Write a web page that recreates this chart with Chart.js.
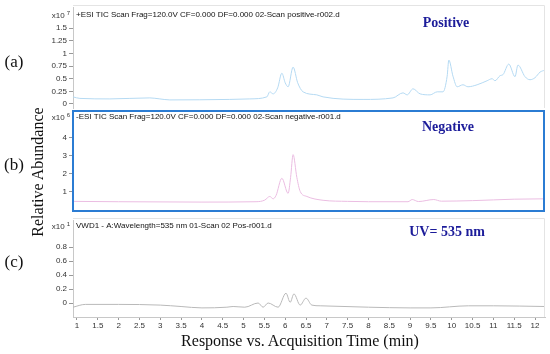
<!DOCTYPE html>
<html>
<head>
<meta charset="utf-8">
<script src="https://cdn.jsdelivr.net/npm/chart.js@4.4.0/dist/chart.umd.min.js"></script>
<style>
html, body { margin: 0; padding: 0; background: #fff; }
#wrap { position: relative; width: 550px; height: 354px; overflow: hidden; }
canvas { position: absolute; left: 0; }
.serif { position: absolute; font-family: 'Liberation Serif', 'Times New Roman', serif; color: #111; white-space: nowrap; transform: translate(-50%, -50%); }
</style>
</head>
<body>
<div id="wrap">
  <canvas id="chartA" width="550" height="110" style="top:0px"></canvas>
  <canvas id="chartB" width="550" height="104" style="top:110px"></canvas>
  <canvas id="chartC" width="550" height="140" style="top:214px"></canvas>
  <div class="serif" style="left:14px;top:62px;font-size:17px">(a)</div>
  <div class="serif" style="left:14px;top:165px;font-size:17px">(b)</div>
  <div class="serif" style="left:14px;top:262px;font-size:17px">(c)</div>
  <div class="serif" style="left:38px;top:172px;font-size:16px;transform:translate(-50%,-50%) rotate(-90deg)">Relative Abundance</div>
  <div class="serif" style="left:300px;top:341px;font-size:16px">Response vs. Acquisition Time (min)</div>
</div>
<script>
// --- data ---
const xMin = 0.904, xMax = 12.24;
const xTicks = [1, 1.5, 2, 2.5, 3, 3.5, 4, 4.5, 5, 5.5, 6, 6.5, 7, 7.5, 8, 8.5, 9, 9.5, 10, 10.5, 11, 11.5, 12];

// (a) +ESI TIC, x10^7
const timeA = [0.904, 1.07, 1.79, 2.75, 2.99, 3.23, 4.67, 5.15, 5.56, 5.63, 5.71, 5.82, 5.92, 6.0, 6.07, 6.19, 6.3, 6.43, 6.76, 6.91, 7.87, 8.59, 8.83, 8.93, 9.07, 9.24, 9.48, 9.65, 9.79, 9.89, 9.93, 10.03, 10.13, 10.27, 10.39, 10.61, 10.85, 10.97, 11.04, 11.16, 11.23, 11.37, 11.52, 11.59, 11.76, 11.88, 12.0, 12.12, 12.24];
const posA  = [0.14, 0.11, 0.10, 0.12, 0.10, 0.08, 0.09, 0.10, 0.14, 0.24, 0.20, 0.32, 0.61, 0.42, 0.34, 0.73, 0.42, 0.24, 0.18, 0.14, 0.09, 0.12, 0.22, 0.18, 0.30, 0.20, 0.18, 0.24, 0.24, 0.55, 0.87, 0.55, 0.34, 0.38, 0.34, 0.38, 0.46, 0.50, 0.46, 0.56, 0.58, 0.79, 0.54, 0.77, 0.54, 0.48, 0.52, 0.63, 0.67];
const ticksA = [0, 0.25, 0.5, 0.75, 1, 1.25, 1.5];

// (b) -ESI TIC, x10^6
const timeB = [0.904, 2.0, 4.0, 5.3, 5.51, 5.63, 5.71, 5.78, 5.92, 6.07, 6.13, 6.19, 6.28, 6.36, 6.52, 6.91, 7.5, 8.0, 8.95, 9.05, 9.2, 9.57, 9.75, 10.5, 11.5, 12.24];
const negB  = [0.48, 0.46, 0.44, 0.46, 0.55, 0.75, 0.62, 0.8, 1.75, 0.92, 1.8, 3.05, 1.8, 1.03, 0.75, 0.54, 0.48, 0.46, 0.46, 0.58, 0.47, 0.58, 0.49, 0.52, 0.6, 0.62];
const ticksB = [1, 2, 3, 4];

// (c) VWD1 535 nm, x10^1
const timeC = [0.904, 1.2, 2.0, 3.0, 3.5, 4.0, 4.6, 4.75, 5.03, 5.35, 5.47, 5.59, 5.83, 6.02, 6.12, 6.21, 6.36, 6.5, 6.64, 6.84, 8.0, 9.0, 9.5, 10.4, 11.0, 12.24];
const uvC   = [-0.06, -0.02, -0.02, -0.03, -0.05, -0.07, -0.06, -0.05, -0.06, 0.0, -0.06, 0.0, -0.06, 0.14, 0.01, 0.13, -0.03, 0.07, -0.03, -0.04, -0.06, -0.07, -0.07, -0.04, -0.04, -0.05];
const ticksC = [0, 0.2, 0.4, 0.6, 0.8];

// --- helpers ---
const tickFont = { family: "'Liberation Sans', Arial, sans-serif", size: 8 };
const toPoints = (xs, ys) => xs.map((x, i) => ({ x, y: ys[i] }));

function yScale(min, max, ticks, showBorder) {
    return {
        min, max,
        afterFit: s => { s.width = 73; s.paddingTop = 0; s.paddingBottom = 0; },
        afterBuildTicks: s => { s.ticks = ticks.map(v => ({ value: v })); },
        ticks: { font: tickFont, color: '#333', padding: 2, callback: v => String(v) },
        grid: { drawOnChartArea: false, tickLength: 4, color: '#999' },
        border: { display: showBorder, color: '#c8c8c8' }
    };
}

// draws the header line, the x10 exponent, the big blue label and the frame
function decor(o) {
    return {
        id: 'decor',
        afterDraw(chart) {
            const { ctx, chartArea: a } = chart;
            ctx.save();
            if (o.frame === 'blue') {
                ctx.strokeStyle = '#2b7cd3';
                ctx.lineWidth = 2;
                ctx.strokeRect(a.left, a.top, a.right - a.left - 1, a.bottom - a.top);
            } else {
                ctx.strokeStyle = '#e4e4e4';
                ctx.lineWidth = 1;
                ctx.beginPath();
                ctx.moveTo(a.left, a.top - 1.5);
                ctx.lineTo(a.right - 0.5, a.top - 1.5);
                ctx.lineTo(a.right - 0.5, a.bottom);
                ctx.stroke();
            }
            ctx.fillStyle = '#111';
            ctx.textBaseline = 'middle';
            ctx.textAlign = 'left';
            ctx.font = "8px 'Liberation Sans', Arial, sans-serif";
            ctx.fillText(o.header, a.left + 3, o.headerY);
            // exponent label
            ctx.fillStyle = '#333';
            ctx.textAlign = 'right';
            ctx.font = "6px 'Liberation Sans', Arial, sans-serif";
            ctx.fillText(o.exp, 70, o.headerY - 2);
            const w = ctx.measureText(o.exp).width;
            ctx.font = "8px 'Liberation Sans', Arial, sans-serif";
            ctx.fillText('x10', 68 - w, o.headerY + 1);
            // big blue label
            ctx.fillStyle = '#1c1c9a';
            ctx.textAlign = 'center';
            ctx.font = "bold 14px 'Liberation Serif', 'Times New Roman', serif";
            ctx.fillText(o.label, o.labelX, o.labelY);
            ctx.restore();
        }
    };
}

function lineDataset(xs, ys, color) {
    return {
        data: toPoints(xs, ys),
        borderColor: color,
        borderWidth: 1,
        pointRadius: 0,
        cubicInterpolationMode: 'monotone',
        fill: false
    };
}

const baseOpts = {
    responsive: false,
    animation: false,
    plugins: { legend: { display: false }, tooltip: { enabled: false } }
};

// --- (a) positive ---
new Chart(document.getElementById('chartA'), {
    type: 'line',
    data: { datasets: [lineDataset(timeA, posA, '#b5daf3')] },
    options: {
        ...baseOpts,
        layout: { autoPadding: false, padding: { left: 0, right: 5, top: 7, bottom: 2 } },
        scales: {
            x: { type: 'linear', min: xMin, max: xMax, display: false },
            y: yScale(-0.08, 1.92, ticksA, true)
        }
    },
    plugins: [decor({ header: '+ESI TIC Scan Frag=120.0V CF=0.000 DF=0.000 02-Scan positive-r002.d', headerY: 15, exp: '7', label: 'Positive', labelX: 446, labelY: 23 })]
});

// --- (b) negative ---
new Chart(document.getElementById('chartB'), {
    type: 'line',
    data: { datasets: [lineDataset(timeB, negB, '#ebbde2')] },
    options: {
        ...baseOpts,
        layout: { autoPadding: false, padding: { left: 0, right: 5, top: 1, bottom: 3 } },
        scales: {
            x: { type: 'linear', min: xMin, max: xMax, display: false },
            y: yScale(-0.05, 5.45, ticksB, false)
        }
    },
    plugins: [decor({ header: '-ESI TIC Scan Frag=120.0V CF=0.000 DF=0.000 02-Scan negative-r001.d', headerY: 7, exp: '6', label: 'Negative', labelX: 448, labelY: 17, frame: 'blue' })]
});

// --- (c) UV 535 nm ---
new Chart(document.getElementById('chartC'), {
    type: 'line',
    data: { datasets: [lineDataset(timeC, uvC, '#b9b9b9')] },
    options: {
        ...baseOpts,
        layout: { autoPadding: false, padding: { left: 0, right: 5, top: 6, bottom: 23 } },
        scales: {
            x: {
                type: 'linear', min: xMin, max: xMax,
                afterBuildTicks: s => { s.ticks = xTicks.map(v => ({ value: v })); },
                afterFit: s => { s.height = 14; s.paddingLeft = 0; s.paddingRight = 0; },
                ticks: { font: tickFont, color: '#333', padding: 1, maxRotation: 0, autoSkip: false, callback: v => String(v) },
                grid: { drawOnChartArea: false, tickLength: 3, color: '#999' },
                border: { color: '#c8c8c8' }
            },
            y: yScale(-0.2, 1.186, ticksC, true)
        }
    },
    plugins: [decor({ header: 'VWD1 - A:Wavelength=535 nm 01-Scan 02 Pos-r001.d', headerY: 12, exp: '1', label: 'UV= 535 nm', labelX: 447, labelY: 18 })]
});
</script>
</body>
</html>
